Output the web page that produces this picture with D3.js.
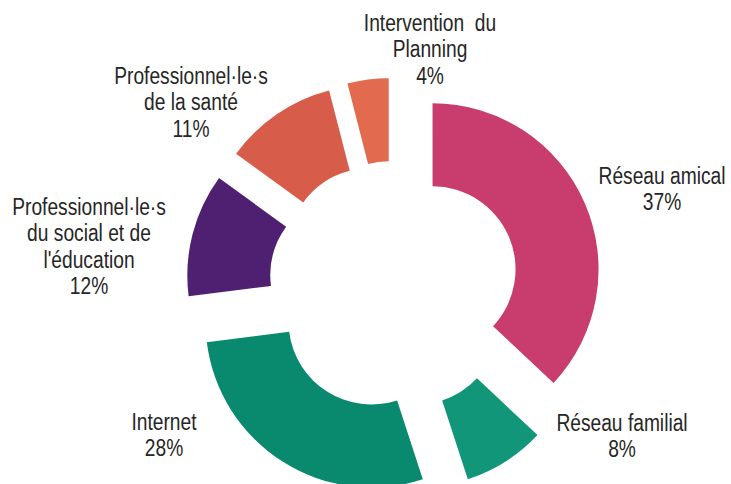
<!DOCTYPE html>
<html lang="fr">
<head>
<meta charset="utf-8">
<title>Donut</title>
<style>
  body {margin: 0; background: #fff;}
  svg  {display: block;}
  .lbl {font-family: "Liberation Sans", Arial, sans-serif; font-size: 23px; fill: #262626;}
</style>
</head>
<body>
<svg id="chart" width="731" height="484"></svg>
<script src="https://d3js.org/d3.v7.min.js"></script>
<script>
// data
const categories = ["Réseau amical", "Réseau familial", "Internet",
  "Professionnel·le·s du social et de l'éducation", "Professionnel·le·s de la santé",
  "Intervention du Planning"];
const values = [37, 8, 28, 12, 11, 4];
const labelLines = [
  ["Réseau amical"],
  ["Réseau familial"],
  ["Internet"],
  ["Professionnel·le·s", "du social et de", "l'éducation"],
  ["Professionnel·le·s", "de la santé"],
  ["Intervention  du", "Planning"]
];
const colors = ["#c93c6e", "#12967a", "#098a6f", "#4f2072", "#d75c4a", "#e26a4f"];

// layout
const cx = 394, cy = 286, rIn = 83, rOut = 166, explode = 42;
const labelAt = [[662, 184], [622, 431], [164, 430], [89, 215], [191, 84], [430, 31]];
const lineH = 26.5;
const squeeze = 0.835; // the reference uses a narrow face

const svg = d3.select("#chart");
const pie = d3.pie().sort(null).value(d => d)(values);
const arc = d3.arc().innerRadius(rIn).outerRadius(rOut);

const g = svg.append("g").attr("transform", `translate(${cx},${cy})`);
g.selectAll("path")
  .data(pie)
  .join("path")
    .attr("d", arc)
    .attr("fill", (d, i) => colors[i])
    .attr("transform", d => {
      const a = (d.startAngle + d.endAngle) / 2;
      return `translate(${explode * Math.sin(a)},${-explode * Math.cos(a)})`;
    });

// labels
const total = d3.sum(values);
pie.forEach((d, i) => {
  const lines = labelLines[i].concat([Math.round(d.value / total * 100) + "%"]);
  const t = svg.append("text")
    .attr("class", "lbl")
    .attr("text-anchor", "middle")
    .attr("transform", `translate(${labelAt[i][0]},${labelAt[i][1]}) scale(${squeeze},1)`)
    .attr("xml:space", "preserve");
  lines.forEach((s, k) => {
    t.append("tspan").attr("x", 0).attr("dy", k ? lineH : 0).text(s);
  });
});
</script>
</body>
</html>
